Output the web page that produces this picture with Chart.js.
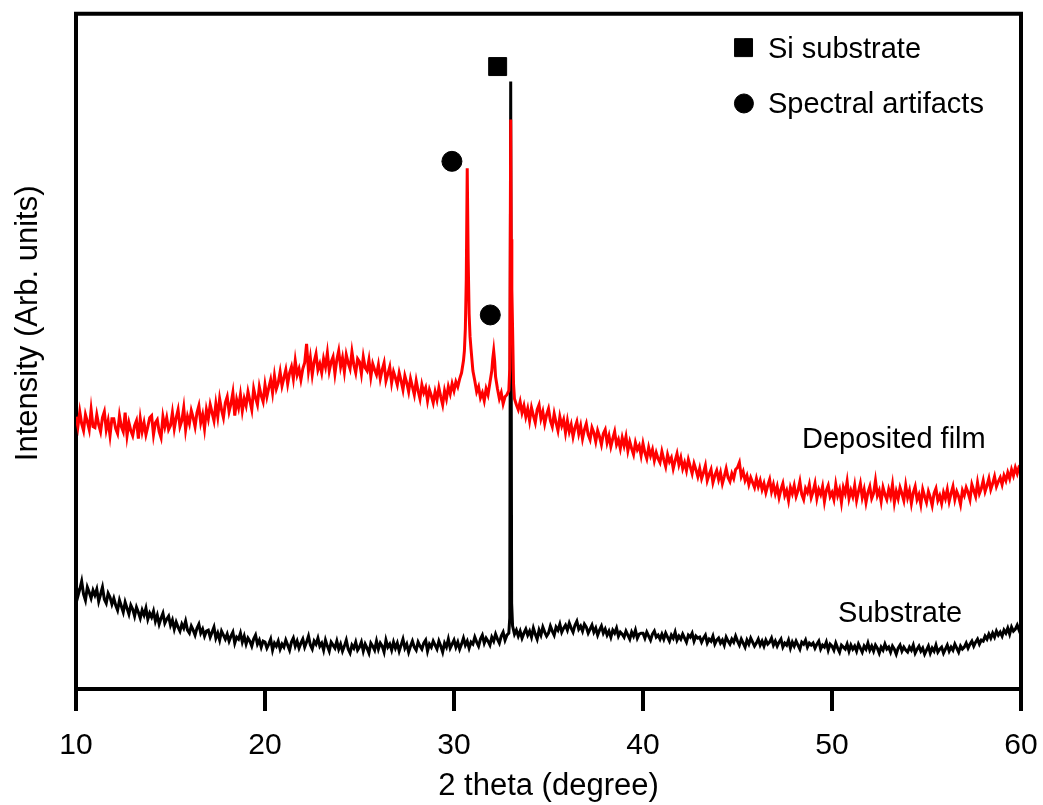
<!DOCTYPE html>
<html>
<head>
<meta charset="utf-8">
<script src="https://cdn.jsdelivr.net/npm/chart.js@4.4.1/dist/chart.umd.min.js"></script>
<style>
html,body{margin:0;padding:0;background:#fff;}
#wrap{width:1043px;height:805px;position:relative;}
</style>
</head>
<body>
<div id="wrap"><canvas id="c" width="1043" height="805"></canvas></div>
<script>
// ---- sampling grid (2 theta, degrees) ----
const xStart = 10;
const xStep = 0.1;
const xTicks = [10, 20, 30, 40, 50, 60];
const xTitle = '2 theta (degree)';
const yTitle = 'Intensity (Arb. units)';

// ---- Deposited film (red), one row per degree, 10.0 .. 60.0 ----
const filmValues = [
272,262,277,265,258,274,267,259,279,262,
261,274,264,257,271,277,259,268,253,270,
270,260,255,273,262,257,276,253,266,258,
253,263,268,250,270,257,266,254,262,271,
273,254,266,269,257,251,272,262,271,259,
263,276,260,271,279,262,268,281,259,272,
265,278,271,262,276,283,266,274,260,279,
270,284,276,268,285,272,290,279,271,286,
292,277,285,296,273,289,281,294,278,290,
283,297,288,279,300,291,284,302,293,287,
304,292,301,309,296,313,300,306,317,303,
311,319,305,316,322,310,328,314,320,309,
320,326,345,318,331,314,327,335,319,325,
316,330,322,336,318,327,332,315,329,338,
322,331,317,334,326,320,337,324,316,330,
327,315,332,321,318,329,312,325,319,314,
324,310,319,326,308,315,322,306,317,311,
304,316,308,299,313,306,297,310,302,294,
308,298,290,304,296,301,288,299,293,286,
297,289,301,292,284,298,290,302,295,305,
298,307,302,310,316,328,360,521,375,340,
318,308,297,302,291,296,288,300,294,306,
318,338,312,300,290,296,285,292,294,298,
570,360,290,284,279,287,276,283,272,280,
268,281,273,266,279,284,270,277,265,274,
280,268,262,275,266,258,272,263,269,256,
268,257,264,252,261,267,255,263,250,259,
265,254,249,261,256,247,258,252,244,255,
259,246,253,242,250,257,244,249,240,251,
243,252,238,247,240,234,246,239,243,233,
245,236,230,241,233,239,228,236,230,226,
237,229,222,234,227,231,220,228,235,224,
231,220,226,218,229,222,215,225,219,212,
220,210,216,223,208,214,219,206,213,218,
209,216,205,212,220,211,207,215,210,219,
221,226,212,217,208,213,204,211,206,201,
210,202,208,199,205,196,203,209,197,204,
195,202,191,199,205,193,198,188,201,195,
203,192,198,207,194,189,200,196,204,191,
197,205,190,199,194,202,187,198,203,192,
196,189,204,193,199,186,201,195,207,190,
198,192,203,188,197,205,191,199,186,196,
202,190,195,208,193,198,187,201,194,189,
199,192,204,186,197,190,201,195,188,203,
191,198,185,196,202,189,194,184,199,192,
186,197,191,183,195,200,188,193,185,196,
190,199,187,195,202,189,197,192,184,198,
193,201,196,189,204,198,192,206,195,200,
208,197,203,210,199,205,212,202,207,211,
204,213,208,216,210,219,213,221,215,222,
224
];
// extra readings on the sharp peaks of the film [2theta, intensity]
const filmPeakPoints = [
[30.55,338],[30.65,410],[30.75,430],[30.85,352],
[32.05,330],[32.15,328],
[32.95,320],[33.03,450],[33.06,400],[33.15,305]
];

// ---- Substrate (black), one row per degree, 10.0 .. 60.0 ----
const substrateValues = [
104,92,99,107,94,88,101,96,90,98,
93,99,87,94,101,89,85,95,91,84,
90,83,78,88,82,76,86,80,74,83,
79,72,81,76,70,78,73,80,69,75,
71,77,67,73,64,70,75,65,69,72,
63,68,59,66,61,57,64,60,67,58,
55,62,58,53,60,64,55,59,52,57,
58,51,56,61,50,55,48,57,53,49,
54,47,52,56,45,51,49,55,46,52,
44,50,47,42,49,53,44,48,41,47,
46,40,44,49,38,45,42,47,39,44,
41,48,43,38,46,50,42,47,40,45,
49,41,46,52,43,39,47,44,50,42,
45,38,48,42,37,46,43,40,47,39,
44,37,42,48,39,35,43,40,46,38,
41,46,37,44,40,35,45,42,38,47,
39,45,42,36,48,41,44,38,46,40,
45,37,43,49,40,44,36,42,47,41,
38,46,42,39,45,48,37,44,41,47,
43,39,47,42,36,45,41,49,40,44,
48,41,46,39,44,50,43,47,40,46,
44,51,46,42,49,53,45,50,47,43,
51,47,54,49,45,52,56,48,53,55,
608,62,54,58,52,57,50,55,59,53,
57,51,60,54,49,58,53,61,56,52,
55,62,57,53,61,58,64,56,60,63,
58,65,60,56,63,67,59,62,57,64,
61,55,59,63,56,60,53,58,62,55,
59,53,57,51,58,55,60,52,56,54,
51,57,53,49,56,52,58,50,54,55,
55,50,56,52,48,54,57,51,53,49,
54,49,55,51,47,53,50,56,48,52,
49,54,50,46,53,51,55,47,52,50,
51,46,50,53,45,49,47,52,44,48,
50,45,48,43,51,47,44,49,46,52,
47,43,49,45,41,48,44,50,46,42,
45,49,43,47,42,48,44,46,50,43,
47,42,46,49,41,45,43,48,40,46,
42,47,43,39,46,44,48,41,45,43,
45,40,44,47,39,43,41,46,38,44,
42,38,45,40,36,43,41,39,44,37,
43,39,42,37,44,40,36,42,39,45,
38,42,37,43,40,35,41,38,44,39,
41,36,42,39,34,40,43,37,41,38,
36,41,38,43,35,39,42,37,40,34,
38,42,35,40,37,43,36,39,41,35,
39,43,37,41,38,44,40,36,42,39,
41,45,40,44,47,42,46,49,44,48,
47,52,49,54,50,55,51,57,53,56,
52,58,55,60,54,61,57,59,63,58,
62
];
const substratePeakPoints = [[32.95,70],[33.05,85]];

// ---- peak markers ----
const siMarkers = [[32.31,623]];
const artifactMarkers = [[29.89,528],[31.92,374]];
const legendSquare = [[45.32,642]];
const legendCircle = [[45.34,586]];

// ---- text labels (data coordinates of baseline-left) ----
const labels = [
  {text:'Deposited film', x:48.41, y:241},
  {text:'Substrate', x:50.32, y:66},
  {text:'Si substrate', x:46.61, y:632},
  {text:'Spectral artifacts', x:46.61, y:576}
];

function buildSeries(values, extra) {
  const pts = values.map((v, i) => ({x: Math.round((xStart + i * xStep) * 100) / 100, y: v}));
  extra.forEach(p => pts.push({x: p[0], y: p[1]}));
  pts.sort((a, b) => a.x - b.x);
  return pts;
}
const toPts = arr => arr.map(p => ({x: p[0], y: p[1]}));

const FONT = "'Liberation Sans', Arial, Helvetica, sans-serif";
Chart.defaults.font.family = FONT;
Chart.defaults.color = '#000';

const framePlugin = {
  id: 'frame',
  afterDraw(chart) {
    const {ctx, chartArea, scales} = chart;
    ctx.save();
    ctx.strokeStyle = '#000';
    ctx.lineWidth = 4;
    ctx.beginPath();
    ctx.moveTo(chartArea.left - 2, chartArea.top);
    ctx.lineTo(chartArea.right, chartArea.top);
    ctx.lineTo(chartArea.right, chartArea.bottom);
    ctx.stroke();
    ctx.fillStyle = '#000';
    ctx.font = '29px ' + FONT;
    ctx.textAlign = 'left';
    ctx.textBaseline = 'alphabetic';
    labels.forEach(l => {
      ctx.fillText(l.text, scales.x.getPixelForValue(l.x), scales.y.getPixelForValue(l.y));
    });
    // y axis title
    ctx.font = '31px ' + FONT;
    ctx.textAlign = 'center';
    ctx.translate(37, (chartArea.top + chartArea.bottom) / 2 - 28);
    ctx.rotate(-Math.PI / 2);
    ctx.fillText(yTitle, 0, 0);
    ctx.restore();
  }
};

new Chart(document.getElementById('c'), {
  type: 'line',
  data: {
    datasets: [
      {type:'scatter', data: toPts(siMarkers), pointStyle:'rect', pointRadius:12.7, backgroundColor:'#000', borderColor:'#000', borderWidth:1},
      {type:'scatter', data: toPts(artifactMarkers), pointStyle:'circle', pointRadius:10, backgroundColor:'#000', borderColor:'#000', borderWidth:1},
      {type:'scatter', data: toPts(legendSquare), pointStyle:'rect', pointRadius:12.7, backgroundColor:'#000', borderColor:'#000', borderWidth:1},
      {type:'scatter', data: toPts(legendCircle), pointStyle:'circle', pointRadius:9.5, backgroundColor:'#000', borderColor:'#000', borderWidth:1},
      {label:'Deposited film', data: buildSeries(filmValues, filmPeakPoints), borderColor:'#ff0000', borderWidth:3, pointRadius:0, tension:0, fill:false},
      {label:'Substrate', data: buildSeries(substrateValues, substratePeakPoints), borderColor:'#000000', borderWidth:3, pointRadius:0, tension:0, fill:false}
    ]
  },
  options: {
    responsive: false,
    animation: false,
    devicePixelRatio: 1,
    layout: {padding: {left: 0, right: 22, top: 12, bottom: 0}},
    plugins: {legend: {display: false}, tooltip: {enabled: false}},
    scales: {
      x: {
        type: 'linear', min: 10, max: 60,
        afterBuildTicks: s => { s.ticks = xTicks.map(v => ({value: v})); },
        ticks: {font: {size: 30}, color: '#000', padding: 17, maxRotation: 0, autoSkip: false},
        grid: {display: true, drawOnChartArea: false, drawTicks: true, tickLength: 22, lineWidth: 4, color: '#000'},
        border: {display: true, width: 4, color: '#000'},
        title: {display: true, text: xTitle, font: {size: 31}, color: '#000', padding: 0},
        afterFit: s => { s.height = 116; s.paddingLeft = 0; s.paddingRight = 0; }
      },
      y: {
        type: 'linear', min: -1, max: 676,
        ticks: {display: false},
        grid: {display: false},
        border: {display: true, width: 4, color: '#000'},
        afterFit: s => { s.width = 76; }
      }
    }
  },
  plugins: [framePlugin]
});
</script>
</body>
</html>
